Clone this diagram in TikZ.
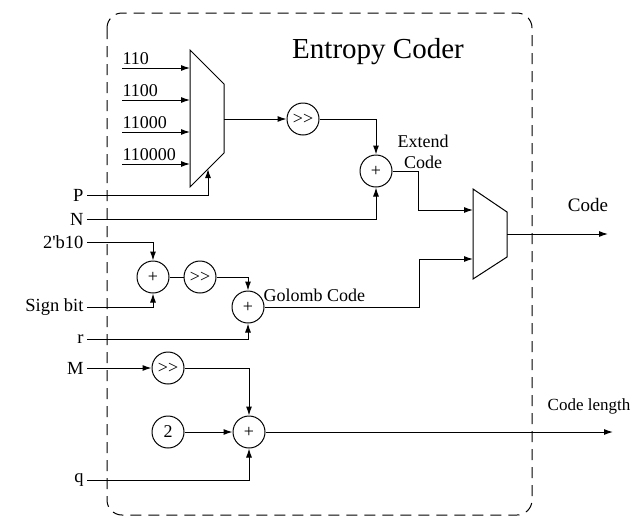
\documentclass[tikz,border=0pt]{standalone}
\usepackage{fontspec}
\newfontfamily\codefont{Liberation Serif}
\usetikzlibrary{arrows.meta,positioning,calc}

\begin{document}
\begin{tikzpicture}[x=1pt,y=-1pt,>={Latex[length=9pt,width=6pt]},line width=1pt,
  every node/.style={font=\codefont\fontsize{18}{21}\selectfont},
  op/.style={draw,circle,minimum size=32pt,inner sep=0pt},
  inlab/.style={anchor=east,inner sep=3pt,font=\codefont\fontsize{18.5}{21}\selectfont},
  bitlab/.style={anchor=south west,inner xsep=0pt,inner ysep=3pt}]
\useasboundingbox (0,0) rectangle (644,517);
% coder frame
\draw[dash pattern=on 11pt off 7pt,rounded corners=15pt] (107,13) rectangle (532,515);
\node[anchor=base,font=\codefont\fontsize{29}{32}\selectfont](title) at (378,58){Entropy Coder};
% first mux
\draw (190,50)--(224,84)--(224,153)--(190,187)--cycle;
\coordinate (m1out) at (224,119); \coordinate (m1sel) at (208,169);
\foreach \v/\y [count=\i] in {110/68,1100/100,11000/132,110000/164}{
  \coordinate (m1in\i) at (190,\y);
  \node[bitlab](bit\i) at (122,\y){\v};
  \draw[->](bit\i.south west)--(m1in\i);
}
% second mux
\draw (473,189)--(507,212)--(507,257)--(473,279)--cycle;
\coordinate (m2a) at (473,210); \coordinate (m2b) at (473,259); \coordinate (m2out) at (507,234);
% operators
\node[op](sh1) at (303,119){>>};
\node[op](add1) at (376,171){+};
\node[op](add2) at (153,277){+};
\node[op](sh2) at (200,277){>>};
\node[op](add3) at (248,307){+};
\node[op](sh3) at (168,368){>>};
\node[op](two) at (168,432){2};
\node[op](add4) at (249,432){+};
% inputs
\node[inlab](inP) at (87,195){P};
\node[inlab](inN) at (87,219){N};
\node[inlab](inB) at (87,242){2'b10};
\node[inlab](inS) at (87,307){Sign bit};
\node[inlab](inR) at (87,339){r};
\node[inlab](inM) at (87,368){M};
\node[inlab](inQ) at (87,480){q};
% labels
\node[align=center](ext) at (423,152){Extend\\Code};
\node[anchor=base west,inner sep=0pt](gol) at (263,301){Golomb Code};
\node[anchor=base,font=\codefont\fontsize{19}{21}\selectfont](code) at (588,211){Code};
\node[anchor=base,font=\codefont\fontsize{17}{21}\selectfont](len) at (589,410){Code length};
\coordinate (j1) at (418,171); \coordinate (j2) at (419,307);
\coordinate (codeEnd) at (608,234); \coordinate (lenEnd) at (613,432);
% connections
\draw[->](m1out)--(sh1); \draw[->](sh1)-|(add1);
\draw[->](inP.east)-|(m1sel); \draw[->](inN.east)-|(add1);
\draw[->](add1)--(j1)|-(m2a); \draw[->](m2out)--(codeEnd);
\draw[->](inB.east)-|(add2); \draw[->](inS.east)-|(add2);
\draw(add2)--(sh2); \draw[->](sh2)-|(add3); \draw[->](inR.east)-|(add3);
\draw[->](add3)--(j2)|-(m2b);
\draw[->](inM.east)--(sh3); \draw[->](sh3)-|(add4);
\draw[->](two)--(add4); \draw[->](inQ.east)-|(add4);
\draw[->](add4)--(lenEnd);
\end{tikzpicture}
\end{document}
